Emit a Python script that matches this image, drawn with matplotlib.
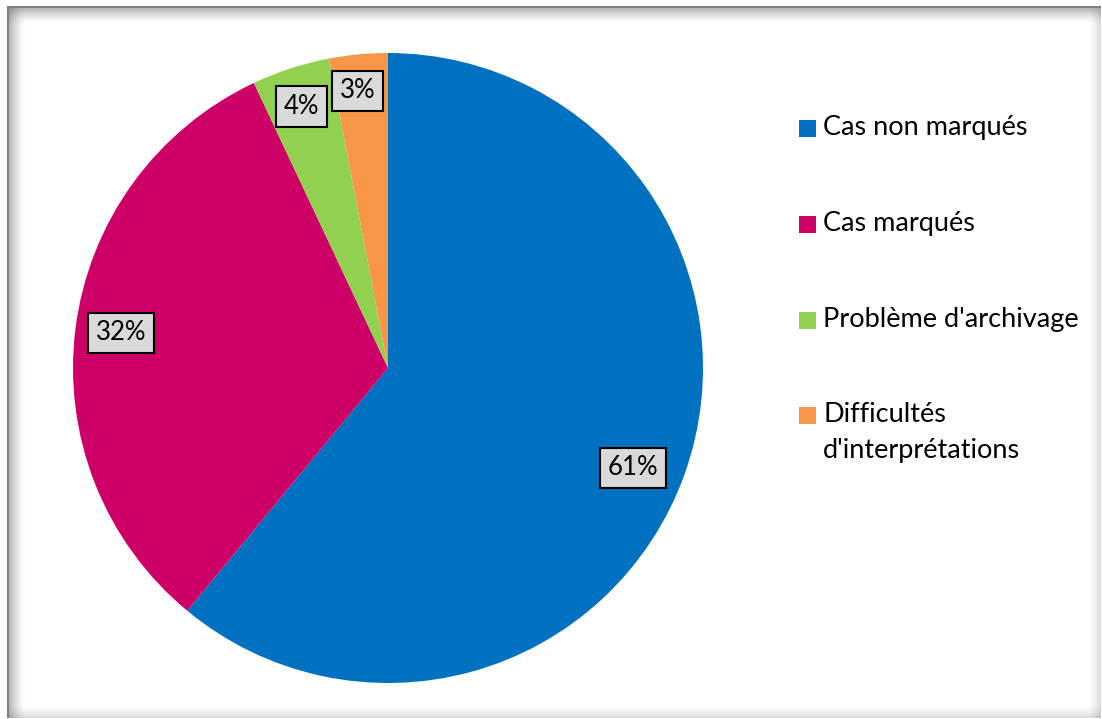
import numpy as np
import matplotlib.pyplot as plt
from matplotlib.patches import Rectangle

# ----------------------------
# Data
# ----------------------------
categories = ["Cas non marqués", "Cas marqués", "Problème d'archivage",
              "Difficultés\nd'interprétations"]
shares = [61, 32, 4, 3]
colors = ["#0070C0", "#CC0066", "#92D050", "#F79646"]
label_radius = [0.84, 0.855, 0.875, 0.885]
label_shift = [-2.4, -0.3, 0.3, 0.8]   # degrees, nudges the data labels

plt.rcParams['font.family'] = ['Lato', 'DejaVu Sans']

W, H = 1102, 719
fig = plt.figure(figsize=(W / 100, H / 100), dpi=100)


def px_rect(x, y, w, h, color, alpha):
    # rectangle in pixel units, y measured from the top
    fig.patches.append(Rectangle((x / W, 1 - (y + h) / H), w / W, h / H,
                                 transform=fig.transFigure, facecolor=color,
                                 alpha=alpha, edgecolor="none"))


# ----------------------------
# Pie
# ----------------------------
cx, cy, r = 388, 368, 315
ax = fig.add_axes([(cx - r) / W, 1 - (cy + r) / H, 2 * r / W, 2 * r / H])
wedges, _ = ax.pie(shares, colors=colors, startangle=90, counterclock=False,
                   radius=1, wedgeprops=dict(linewidth=0))
ax.set_xlim(-1, 1)
ax.set_ylim(-1, 1)
ax.set_aspect("equal")
ax.axis("off")

for w, v, lr, sh in zip(wedges, shares, label_radius, label_shift):
    mid = np.deg2rad((w.theta1 + w.theta2) / 2 + sh)
    ax.text(lr * np.cos(mid), lr * np.sin(mid), f"{v}%", ha="center", va="center",
            fontsize=18.5, color="black",
            bbox=dict(boxstyle="square,pad=0.3", facecolor="#D9D9D9",
                      edgecolor="black", linewidth=1.5))

# ----------------------------
# Legend (manual, first line aligned with the swatch)
# ----------------------------
legend_y = [128, 224, 320, 415]
for lab, col, ly in zip(categories, colors, legend_y):
    px_rect(799, ly - 8.5, 17, 17, col, 1.0)
    fig.text(823 / W, 1 - (ly - 13) / H, lab, ha="left", va="top", fontsize=19.5,
             color="black", linespacing=1.55)

# ----------------------------
# Frame: dark edge top/left, soft shading inward, lighter bottom/right
# ----------------------------
x0, y0, x1, y1 = 7, 6, 1101, 718
px_rect(x0, y0, x1 - x0, 2, "#7f7f7f", 1.0)
px_rect(x0, y0, 2, y1 - y0, "#7f7f7f", 1.0)
for i in range(16):
    a = 0.45 * (1 - i / 16) ** 1.5
    px_rect(x0 + 2, y0 + 2 + i, x1 - x0 - 2, 1, "#606060", a)
    px_rect(x0 + 2 + i, y0 + 2, 1, y1 - y0 - 2, "#606060", a)
for i in range(12):
    a = 0.22 * (1 - i / 12) ** 1.5
    px_rect(x0 + 2, y1 - 1 - i, x1 - x0 - 2, 1, "#606060", a)
    px_rect(x1 - 1 - i, y0 + 2, 1, y1 - y0 - 2, "#606060", a)

fig.savefig("out.png", dpi=100, facecolor="white")
